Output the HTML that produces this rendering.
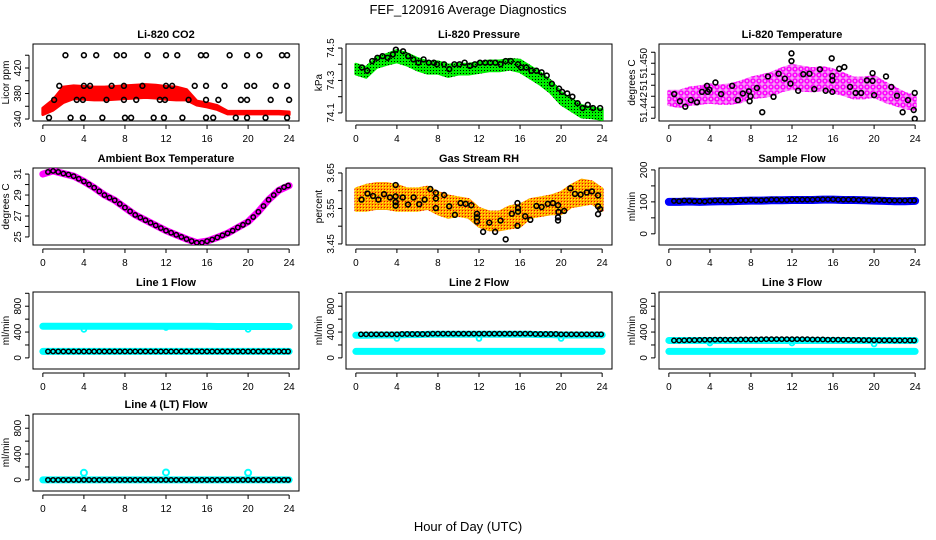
<!DOCTYPE html>
<html><head><meta charset="utf-8"><style>
body{margin:0;background:#fff;}
svg{display:block;font-family:"Liberation Sans",sans-serif;}
</style></head><body>
<svg id="chart" width="936" height="540" viewBox="0 0 936 540" xmlns="http://www.w3.org/2000/svg">
<defs>
<pattern id="pGreen" width="3" height="3" patternUnits="userSpaceOnUse"><rect width="3" height="3" fill="#00ee00"/><rect x="1" y="1" width="1" height="1" fill="#000"/></pattern>
<pattern id="pOrange" width="3" height="3" patternUnits="userSpaceOnUse"><rect width="3" height="3" fill="#ffa500"/><rect x="1" y="1" width="1" height="1" fill="#ff0"/><rect x="0" y="0" width="1" height="1" fill="#e00"/></pattern>
<pattern id="pMag" width="6" height="6" patternUnits="userSpaceOnUse"><rect width="6" height="6" fill="#f4a0f4"/><circle cx="3" cy="3" r="2" fill="none" stroke="#ff00ff" stroke-width="1.6"/></pattern>
</defs>
<text x="468" y="14" text-anchor="middle" font-size="13">FEF_120916  Average Diagnostics</text>
<text x="468" y="531" text-anchor="middle" font-size="13">Hour of Day (UTC)</text>
</svg>
<script>
// ---- data ----
const hourGrid = [0,1,2,3,4,5,6,7,8,9,10,11,12,13,14,15,16,17,18,19,20,21,22,23,24];
const halfHours = [0.5,1,1.5,2,2.5,3,3.5,4,4.5,5,5.5,6,6.5,7,7.5,8,8.5,9,9.5,10,10.5,11,11.5,12,12.5,13,13.5,14,14.5,15,15.5,16,16.5,17,17.5,18,18.5,19,19.5,20,20.5,21,21.5,22,22.5,23,23.5,23.9];

const co2Mid = [352,362,378,382,381,380,380,381,382,383,384,383,381,380,378,365,362,358,350,350,350,350,350,350,349];
const co2Half = [5,8,12,10,10,10,10,10,10,10,10,10,10,10,8,3,3,3,2,2,2,2,2,2,2];
const co2Hours = [2.2,4.0,5.2,7.2,7.9,10.2,12.0,13.1,15.4,15.9,18.2,19.9,21.1,23.3,23.8, 1.6,4.0,4.6,6.7,7.9,9.7,12.0,12.6,14.8,15.9,17.7,19.9,20.6,22.7,23.8, 1.1,3.3,3.9,6.2,7.9,9.1,11.4,11.9,14.2,15.9,17.1,19.3,19.9,22.2,24.0, 0.6,2.7,3.9,5.8,8.0,8.6,10.8,11.8,13.6,15.9,16.6,18.8,19.9,21.7,23.8];
const co2Values = [440,440,440,440,440,440,440,440,440,440,440,440,440,440,440, 392,392,392,392,392,392,392,392,392,392,392,392,392,392,392, 370,370,370,370,370,370,370,370,370,370,370,370,370,370,370, 342,342,342,342,342,342,342,342,342,342,342,342,342,342,342];

const presMid = [74.37,74.35,74.41,74.43,74.45,74.43,74.40,74.38,74.38,74.36,74.37,74.37,74.38,74.39,74.39,74.40,74.39,74.35,74.31,74.26,74.19,74.15,74.11,74.10,74.09];
const presHalf = [0.03,0.03,0.03,0.03,0.035,0.035,0.035,0.035,0.035,0.035,0.03,0.03,0.03,0.03,0.03,0.03,0.035,0.035,0.035,0.035,0.035,0.035,0.035,0.03,0.03];
const presHours = [0.6,1.1,1.6,2.1,2.6,3.1,3.6,3.9,4.6,5.1,5.6,6.1,6.6,7.1,7.6,7.9,8.6,9.1,9.6,10.1,10.6,11.1,11.6,12.1,12.6,13.1,13.6,14.1,14.6,15.1,15.8,16.1,16.6,17.1,17.6,18.1,18.6,19.1,19.8,20.1,20.6,21.1,21.6,22.1,22.6,23.1,23.8];
const presValues = [74.38,74.36,74.42,74.44,74.45,74.44,74.46,74.49,74.48,74.45,74.43,74.41,74.43,74.41,74.41,74.40,74.40,74.37,74.40,74.40,74.41,74.39,74.40,74.41,74.41,74.41,74.41,74.40,74.42,74.42,74.40,74.38,74.38,74.36,74.36,74.35,74.33,74.28,74.25,74.23,74.22,74.20,74.16,74.13,74.15,74.13,74.13];

const tempMid = [51.4437,51.4435,51.4440,51.4442,51.4445,51.4443,51.4444,51.4448,51.4455,51.4458,51.4462,51.4470,51.4475,51.4472,51.4470,51.4472,51.4468,51.4462,51.4455,51.4455,51.4458,51.4448,51.4440,51.4432,51.4428];
const tempHalf = [0.0012,0.0014,0.0015,0.0015,0.0016,0.0016,0.0017,0.0018,0.0018,0.0019,0.0020,0.0020,0.0021,0.0021,0.0020,0.0020,0.0020,0.0019,0.0018,0.0018,0.0018,0.0017,0.0015,0.0013,0.0012];
const tempHours = [0.52,1.08,1.6,2.15,2.74,3.23,3.72,3.79,3.95,4.54,5.09,6.17,6.73,7.21,7.8,7.87,7.96,8.58,9.1,9.66,10.2,10.7,11.3,11.85,11.95,11.95,12.6,13.1,13.7,14.17,14.72,15.28,15.87,15.93,15.93,15.93,16.6,17.1,17.66,18.2,18.74,19.3,19.85,19.85,20.0,21.16,21.68,22.23,22.78,23.3,23.86,23.96,23.96];
const tempValues = [51.4444,51.4431,51.4421,51.4433,51.4429,51.4448,51.4459,51.4448,51.4452,51.4465,51.4444,51.4459,51.4433,51.4445,51.4449,51.4431,51.4440,51.4455,51.4411,51.4476,51.4439,51.4481,51.4472,51.4463,51.4518,51.4504,51.4450,51.4480,51.4481,51.4453,51.4489,51.4450,51.4509,51.4477,51.4469,51.4448,51.4490,51.4493,51.4457,51.4446,51.4446,51.4469,51.4482,51.4468,51.4442,51.4476,51.4457,51.4441,51.4411,51.4433,51.4415,51.4399,51.4446];

const ambMid = [31.0,31.3,31.05,30.8,30.3,29.7,29.0,28.5,27.8,27.1,26.6,26.1,25.6,25.2,24.8,24.45,24.6,24.95,25.35,25.9,26.45,27.4,28.55,29.45,29.9];
const ambValues = [31.2,31.3,31.2,31.05,30.95,30.8,30.55,30.3,30.0,29.7,29.35,29.0,28.75,28.5,28.15,27.8,27.45,27.1,26.85,26.6,26.35,26.1,25.85,25.6,25.4,25.2,25.0,24.8,24.6,24.45,24.45,24.6,24.75,24.95,25.15,25.35,25.6,25.9,26.15,26.45,26.9,27.4,27.95,28.55,29.0,29.45,29.75,29.9];

const rhMid = [3.575,3.58,3.585,3.585,3.58,3.575,3.575,3.58,3.565,3.555,3.555,3.55,3.525,3.515,3.515,3.525,3.53,3.55,3.555,3.56,3.565,3.585,3.595,3.595,3.575];
const rhHalf = [0.03,0.035,0.035,0.035,0.035,0.03,0.03,0.03,0.03,0.03,0.025,0.025,0.025,0.025,0.025,0.03,0.03,0.025,0.025,0.025,0.03,0.03,0.035,0.03,0.03];
const rhHours = [0.55,1.13,1.68,2.2,2.75,3.33,3.88,3.88,3.88,3.88,4.57,5.08,5.63,6.18,6.7,7.25,7.8,7.8,7.8,8.6,9.1,9.65,10.2,10.7,11.25,11.8,11.8,11.8,12.4,13.0,13.57,14.1,14.6,15.2,15.75,15.75,15.8,15.8,16.5,17.0,17.6,18.1,18.7,19.2,19.7,19.7,19.7,19.75,20.3,20.9,21.35,21.9,22.5,23.0,23.6,23.6,23.6,23.8];
const rhValues = [3.575,3.592,3.585,3.575,3.59,3.581,3.616,3.584,3.568,3.558,3.581,3.561,3.581,3.562,3.575,3.605,3.594,3.578,3.551,3.588,3.556,3.532,3.565,3.563,3.559,3.535,3.525,3.513,3.484,3.51,3.484,3.516,3.463,3.535,3.501,3.565,3.551,3.541,3.528,3.518,3.557,3.554,3.563,3.565,3.559,3.525,3.516,3.54,3.543,3.607,3.591,3.589,3.595,3.598,3.587,3.556,3.534,3.548];

const sampleMid = [100,100,101,100,101,102,102,103,104,104,105,105,106,106,106,107,107,106,106,105,104,103,102,102,103];
const sampleValues = [103,102,104,103,102,102,101,103,104,104,103,104,104,105,105,106,105,105,106,107,107,106,106,107,107,107,107,107,108,108,108,108,107,107,107,107,106,106,105,106,106,105,104,104,104,104,104,104];

const line1Upper = [490,490,490,490,490,490,490,490,490,490,490,490,490,490,490,490,490,485,485,485,485,485,485,485,485];
const line1Lower = [100,100,100,100,100,100,100,100,100,100,100,100,100,100,100,100,100,100,100,100,100,100,100,100,100];
const line1Black = [100,100,100,100,100,100,100,100,100,100,100,100,100,100,100,100,100,100,100,100,100,100,100,100,100,100,100,100,100,100,100,100,100,100,100,100,100,100,100,100,100,100,100,100,100,100,100,100];
const line1Dips = [440,470,440];

const line2Upper = [350,350,355,355,355,360,360,365,365,365,365,365,365,365,365,365,365,365,360,360,355,355,355,355,355];
const line2Lower = [100,100,100,100,100,100,100,100,100,100,100,100,100,100,100,100,100,100,100,100,100,100,100,100,100];
const line2Black = [365,365,365,365,365,365,365,365,370,370,370,370,370,370,375,375,375,375,375,375,375,375,375,375,375,375,375,375,375,375,375,375,375,375,370,370,370,370,370,365,365,365,365,365,365,365,365,365];
const line2Dips = [300,300,300];

const line3Upper = [270,270,270,270,270,270,270,270,270,270,270,270,270,270,270,270,270,270,270,270,270,270,270,270,270];
const line3Lower = [100,100,100,100,100,100,100,100,100,100,100,100,100,100,100,100,100,100,100,100,100,100,100,100,100];
const line3Black = [270,270,272,275,275,278,280,280,282,282,282,282,282,285,285,285,285,288,290,290,290,290,290,290,290,290,290,285,285,285,282,282,282,280,280,278,278,275,275,272,272,272,272,270,270,270,270,270];
const line3Dips = [230,230,215];

const line4Upper = [0,0,0,0,0,0,0,0,0,0,0,0,0,0,0,0,0,0,0,0,0,0,0,0,0];
const line4Black = [0,0,0,0,0,0,0,0,0,0,0,0,0,0,0,0,0,0,0,0,0,0,0,0,0,0,0,0,0,0,0,0,0,0,0,0,0,0,0,0,0,0,0,0,0,0,0,0];
const line4Spikes = [110,115,110];
const dipHours = [4,12,20];

const xTicks = [0,4,8,12,16,20,24];

// ---- layout ----
const NS = "http://www.w3.org/2000/svg";
const svg = document.getElementById('chart');
const COLS = [33,346,659], ROWS = [44,168,292,414], W = 266, H = 77;
function el(tag, attrs, parent){
  const e = document.createElementNS(NS, tag);
  for (const k in attrs) e.setAttribute(k, attrs[k]);
  (parent||svg).appendChild(e);
  return e;
}
function makePanel(c, r, title, ylab, ymin, ymax, yTicks, yLabels, slug){
  const g = el('g', {});
  
  
  const L = COLS[c], T = ROWS[r];
  const X = h => L + (h + 0.96) * W / 25.92;
  const Y = v => T + H - (v - ymin) / (ymax - ymin) * H;
  const box = el('rect', {x:L, y:T, width:W, height:H, fill:'none', stroke:'#000', 'stroke-width':1}, g);
  
  
  const t = el('text', {x:L + W/2, y:T - 6, 'text-anchor':'middle', 'font-size':11, 'font-weight':'bold'}, g);
  t.textContent = title;
  
  
  // x axis
  const xa = el('g', {}, g);
  
  
  el('line', {x1:X(xTicks[0]), x2:X(xTicks[xTicks.length-1]), y1:T+H+4, y2:T+H+4, stroke:'#000'}, xa);
  xTicks.forEach(v => {
    el('line', {x1:X(v), x2:X(v), y1:T+H+4, y2:T+H+8, stroke:'#000'}, xa);
    const tl = el('text', {x:X(v), y:T+H+21, 'text-anchor':'middle', 'font-size':10}, xa);
    tl.textContent = v;
    
    
  });
  // y axis
  const ya = el('g', {}, g);
  
  
  el('line', {x1:L-4, x2:L-4, y1:Y(yTicks[0]), y2:Y(yTicks[yTicks.length-1]), stroke:'#000'}, ya);
  yTicks.forEach(v => el('line', {x1:L-8, x2:L-4, y1:Y(v), y2:Y(v), stroke:'#000'}, ya));
  yLabels.forEach(o => {
    const tl = el('text', {x:L-12, y:Y(o.v), 'text-anchor':'middle', 'font-size':10, transform:`rotate(-90 ${L-12} ${Y(o.v)})`}, ya);
    tl.textContent = o.t;
    
    
  });
  const yl = el('text', {x:L-24, y:T+H/2, 'text-anchor':'middle', 'font-size':10, transform:`rotate(-90 ${L-24} ${T+H/2})`}, g);
  yl.textContent = ylab;
  
  
  const clip = 'clip' + slug;
  const cp = el('clipPath', {id:clip}, g);
  el('rect', {x:L, y:T, width:W, height:H}, cp);
  const plot = el('g', {'clip-path':`url(#${clip})`}, g);
  return {X, Y, plot, slug};
}
function band(p, hours, mid, half, fill){
  let pts = hours.map((h,i) => `${p.X(h)},${p.Y(mid[i]+half[i])}`);
  for (let i = hours.length-1; i >= 0; i--) pts.push(`${p.X(hours[i])},${p.Y(mid[i]-half[i])}`);
  const b = el('polygon', {points:pts.join(' '), fill:fill, stroke:fill, 'stroke-width':3, 'stroke-linejoin':'round'}, p.plot);
  
  
}
function thickLine(p, hours, vals, color, w, name){
  const pl = el('polyline', {points:hours.map((h,i)=>`${p.X(h)},${p.Y(vals[i])}`).join(' '), fill:'none', stroke:color, 'stroke-width':w, 'stroke-linecap':'round', 'stroke-linejoin':'round'}, p.plot);
  
  
}
function circles(p, hours, vals, color, r, sw, name){
  hours.forEach((h,i) => {
    const c = el('circle', {cx:p.X(h), cy:p.Y(vals[i]), r:r, fill:'none', stroke:color, 'stroke-width':sw}, p.plot);
    
    
  });
}

// CO2
let p = makePanel(0,0,'Li-820 CO2','Licor ppm',336.9,457.6,[340,360,380,400,420,440],[{v:340,t:'340'},{v:380,t:'380'},{v:420,t:'420'}],'co2');
band(p, hourGrid, co2Mid, co2Half, '#ff0000');
circles(p, co2Hours, co2Values, '#000', 2.4, 1.6, 'co2-point');
// Pressure
p = makePanel(1,0,'Li-820 Pressure','kPa',74.05,74.525,[74.1,74.2,74.3,74.4,74.5],[{v:74.1,t:'74.1'},{v:74.3,t:'74.3'},{v:74.5,t:'74.5'}],'pressure');
band(p, hourGrid, presMid, presHalf, 'url(#pGreen)');
circles(p, presHours, presValues, '#000', 2.4, 1.6, 'pressure-point');
// Li-820 temperature
p = makePanel(2,0,'Li-820 Temperature','degrees C',51.4395,51.4535,[51.440,51.442,51.444,51.446,51.448,51.450,51.452],[{v:51.442,t:'51.442'},{v:51.446,t:'51'},{v:51.450,t:'51.450'}],'li820-temp');
band(p, hourGrid, tempMid, tempHalf, 'url(#pMag)');
circles(p, tempHours, tempValues, '#000', 2.4, 1.6, 'li820-temp-point');
// Ambient
p = makePanel(0,1,'Ambient Box Temperature','degrees C',24.23,31.58,[25,26,27,28,29,30,31],[{v:25,t:'25'},{v:27,t:'27'},{v:29,t:'29'},{v:31,t:'31'}],'ambient');
thickLine(p, hourGrid, ambMid, '#ff00ff', 7, 'ambient-line');
circles(p, halfHours, ambValues, '#000', 2.2, 1.5, 'ambient-point');
// RH
p = makePanel(1,1,'Gas Stream RH','percent',3.447,3.664,[3.45,3.50,3.55,3.60,3.65],[{v:3.45,t:'3.45'},{v:3.55,t:'3.55'},{v:3.65,t:'3.65'}],'rh');
band(p, hourGrid, rhMid, rhHalf, 'url(#pOrange)');
circles(p, rhHours, rhValues, '#000', 2.4, 1.6, 'rh-point');
// Sample flow
p = makePanel(2,1,'Sample Flow','ml/min',-35,206,[0,50,100,150,200],[{v:0,t:'0'},{v:100,t:'100'},{v:200,t:'200'}],'sample-flow');
thickLine(p, hourGrid, sampleMid, '#0000ff', 8, 'sample-flow-line');
circles(p, halfHours, sampleValues, '#000', 2.2, 1.5, 'sample-flow-point');
// Line flows
const flowTicks = [0,200,400,600,800,1000];
const flowLabels = [{v:0,t:'0'},{v:400,t:'400'},{v:800,t:'800'}];
p = makePanel(0,2,'Line 1 Flow','ml/min',-172,1020,flowTicks,flowLabels,'line1');
thickLine(p, hourGrid, line1Upper, '#00ffff', 7, 'line1-upper');
thickLine(p, hourGrid, line1Lower, '#00ffff', 7, 'line1-lower');
circles(p, dipHours, line1Dips, '#00ffff', 2.4, 1.8, 'line1-dip');
circles(p, halfHours, line1Black, '#000', 2.2, 1.5, 'line1-point');
p = makePanel(1,2,'Line 2 Flow','ml/min',-172,1020,flowTicks,flowLabels,'line2');
thickLine(p, hourGrid, line2Upper, '#00ffff', 7, 'line2-upper');
thickLine(p, hourGrid, line2Lower, '#00ffff', 7, 'line2-lower');
circles(p, dipHours, line2Dips, '#00ffff', 2.4, 1.8, 'line2-dip');
circles(p, halfHours, line2Black, '#000', 2.2, 1.5, 'line2-point');
p = makePanel(2,2,'Line 3 Flow','ml/min',-172,1020,flowTicks,flowLabels,'line3');
thickLine(p, hourGrid, line3Upper, '#00ffff', 7, 'line3-upper');
thickLine(p, hourGrid, line3Lower, '#00ffff', 7, 'line3-lower');
circles(p, dipHours, line3Dips, '#00ffff', 2.4, 1.8, 'line3-dip');
circles(p, halfHours, line3Black, '#000', 2.2, 1.5, 'line3-point');
p = makePanel(0,3,'Line 4 (LT) Flow','ml/min',-172,1020,flowTicks,flowLabels,'line4');
thickLine(p, hourGrid, line4Upper, '#00ffff', 7, 'line4-cyan');
circles(p, dipHours, line4Spikes, '#00ffff', 3, 2, 'line4-spike');
circles(p, halfHours, line4Black, '#000', 2.2, 1.5, 'line4-point');
</script>
</body></html>
